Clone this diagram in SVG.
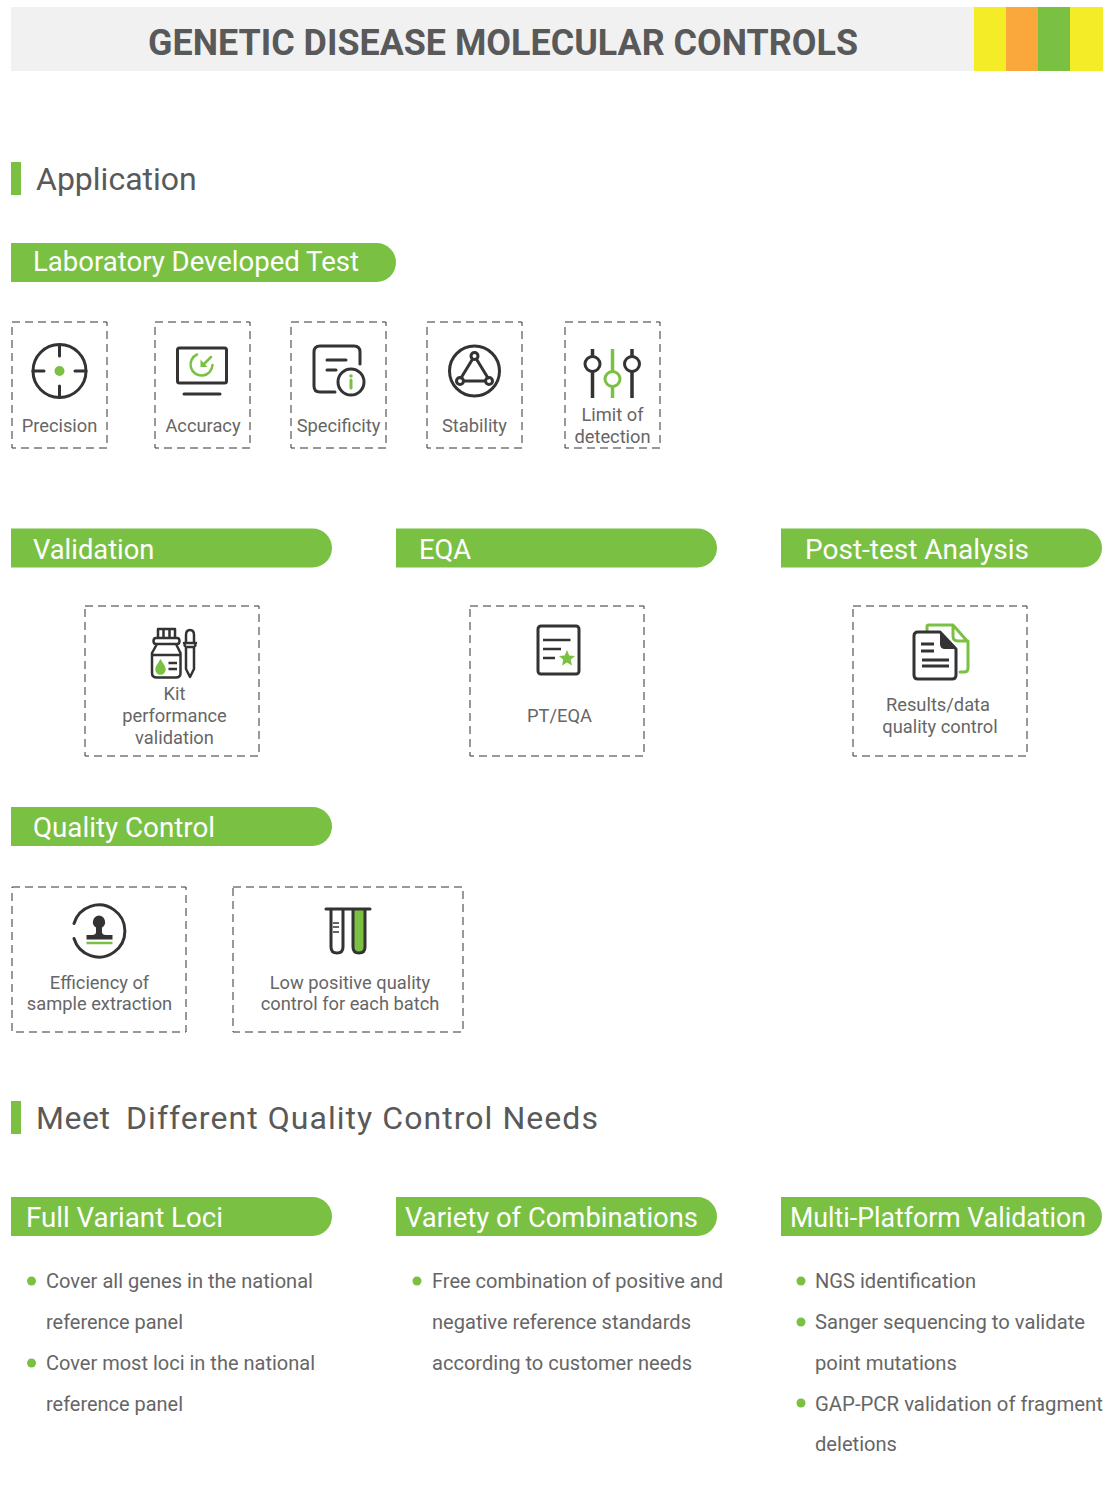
<svg xmlns="http://www.w3.org/2000/svg" width="1109" height="1500" viewBox="0 0 1109 1500">
<style>
text{font-family:Roboto,"Liberation Sans",sans-serif;fill:#595959}
.title{font-size:36px;font-weight:700}
.h{font-size:32px;font-weight:400}
.p{font-size:27.300px;fill:#fff;font-weight:400}
.l{font-size:18.300px;text-anchor:middle;fill:#666}
.b{font-size:20.200px;fill:#666}
.box{fill:none;stroke:#333;stroke-width:1;stroke-dasharray:8 5}
.pill{fill:#7ac143}
.d{fill:none;stroke:#333;stroke-width:3;stroke-linecap:round;stroke-linejoin:round}
.g{fill:none;stroke:#7ac143;stroke-width:3;stroke-linecap:round;stroke-linejoin:round}
.gf{fill:#7ac143}.df{fill:#333}
.dot{fill:#7ac143}
</style>
<defs><path id="pl" d="M0 0H301.500A19.500 19.500 0 0 1 301.500 39H0Z"/></defs>
<g id="header">
<rect x="11" y="7" width="964" height="64" fill="#f1f1f2"/>
<rect x="974" y="7" width="32" height="64" fill="#f5ec28"/>
<rect x="1006" y="7" width="32" height="64" fill="#faa73b"/>
<rect x="1038" y="7" width="32" height="64" fill="#7ac143"/>
<rect x="1070" y="7" width="33" height="64" fill="#f5ec28"/>
<text class="title" x="148" y="55" textLength="710" lengthAdjust="spacingAndGlyphs">GENETIC DISEASE MOLECULAR CONTROLS</text>
</g>
<g id="section-application"><rect x="11" y="162" width="10" height="33" class="pill"/><text class="h" x="36" y="190">Application</text></g>
<g id="pill-ldt"><path class="pill" d="M11 243H376.500A19.500 19.500 0 0 1 376.500 282H11Z"/><text class="p" x="33" y="271" textLength="326" lengthAdjust="spacingAndGlyphs">Laboratory Developed Test</text></g>

<g id="precision"><rect class="box" x="12" y="322" width="95" height="126"/>
<circle class="d" cx="59.500" cy="371" r="26.500"/><path class="d" d="M59.500 345V356M59.500 386V397M33 371H44M75 371H86"/><circle class="dot" cx="59.500" cy="371" r="5"/>
<text class="l" x="59.500" y="432">Precision</text></g>

<g id="accuracy"><rect class="box" x="155" y="322" width="95" height="126"/>
<rect class="d" x="177.500" y="348" width="49" height="35" rx="2"/><path class="d" d="M184 394H220"/>
<path class="g" style="stroke-width:2.500" d="M197 354.500A11 11 0 1 0 212.500 365"/><path class="g" style="stroke-width:2.500" d="M211 357L203 365"/><path class="gf" d="M200.500 359.500L207.500 367H200.500Z"/>
<text class="l" x="203" y="432">Accuracy</text></g>

<g id="specificity"><rect class="box" x="291" y="322" width="95" height="126"/>
<path class="d" d="M335 392H320Q314 392 314 386V352Q314 346 320 346H354Q360 346 360 352V364"/><path class="d" d="M327 360H346M327 370H336"/>
<circle class="d" cx="351" cy="382" r="13"/><path class="g" d="M351 380V388"/><circle class="gf" cx="351" cy="376" r="1.800"/>
<text class="l" x="338.500" y="432">Specificity</text></g>

<g id="stability"><rect class="box" x="427" y="322" width="95" height="126"/>
<circle class="d" cx="474.500" cy="371" r="25"/><path class="d" d="M472 360L461 378M477 360L488 378M465 381H484"/><circle class="d" cx="474.500" cy="356" r="3.500"/><circle class="d" cx="460" cy="381" r="3.500"/><circle class="d" cx="489" cy="381" r="3.500"/>
<text class="l" x="474.500" y="432">Stability</text></g>

<g id="lod"><rect class="box" x="565" y="322" width="95" height="126"/>
<path class="d" style="stroke-linecap:butt;stroke-width:3.500" d="M592.500 349V357M592.500 372V398M632 349V357M632 372V398"/>
<circle class="d" cx="592.500" cy="364" r="7.500"/><circle class="d" cx="632" cy="364" r="7.500"/>
<path class="g" style="stroke-linecap:butt;stroke-width:3.500" d="M612.500 349V372M612.500 387V398"/><circle class="g" cx="612.500" cy="379" r="7.500"/>
<text class="l" x="612.500" y="421">Limit of</text><text class="l" x="612.500" y="443">detection</text></g>

<g id="pill-validation"><use href="#pl" x="11" y="528.500" class="pill"/><text class="p" x="33" y="559">Validation</text></g>
<g id="pill-eqa"><use href="#pl" x="396" y="528.500" class="pill"/><text class="p" x="419" y="559">EQA</text></g>
<g id="pill-post"><use href="#pl" x="781" y="528.500" class="pill"/><text class="p" x="805" y="559" textLength="224" lengthAdjust="spacingAndGlyphs">Post-test Analysis</text></g>

<g id="kit"><rect class="box" x="85" y="606" width="174" height="150"/>
<path class="d" style="stroke-width:2.500" d="M158 638V629H175V638M163.500 630V637M169.500 630V637M156 638H177Q179.500 638 179.500 641Q179.500 644 177 644H156Q153.500 644 153.500 641Q153.500 638 156 638ZM157 644L152 653V673Q152 677.500 157 677.500H176Q180.500 677.500 180.500 673V653L176 644M152 655H180.500"/>
<path class="gf" d="M160.500 659C163 663.500 165.700 666 165.700 669.500A5.200 5.200 0 0 1 155.300 669.500C155.300 666 158 663.500 160.500 659Z"/>
<path class="d" style="stroke-width:2.500;stroke-linecap:butt" d="M168.500 663H177M168.500 669H177"/>
<path class="d" style="stroke-width:2.500" d="M186 642V635Q186 630 190 630Q194 630 194 635V642M184 643H196M186 647H194M186 647V669L190 677L194 669V647M186 643Q183 645 186 647M194 643Q197 645 194 647"/>
<text class="l" x="174.500" y="700">Kit</text><text class="l" x="174.500" y="722">performance</text><text class="l" x="174.500" y="744">validation</text></g>

<g id="pteqa"><rect class="box" x="470" y="606" width="174" height="150"/>
<rect class="d" x="538" y="626" width="41" height="48" rx="3"/><path class="d" style="stroke-width:2.500;stroke-linecap:butt" d="M543 640H570.500M543 649H561M543 658H555"/>
<path class="gf" d="M567 650L569.300 655.400L575 656L570.700 659.800L572 665.500L567 662.500L562 665.500L563.300 659.800L559 656L564.700 655.400Z"/>
<text class="l" x="559.500" y="722">PT/EQA</text></g>

<g id="results"><rect class="box" x="853" y="606" width="174" height="150"/>
<path class="g" d="M927 631V626Q927 625 929 625H953L968 642V668Q968 672 964 672H960M953 625V636Q953 641 958 641H968"/>
<path class="d" style="fill:#fff" d="M918 632H940L956 649V675Q956 679 952 679H918Q914 679 914 675V636Q914 632 918 632Z"/>
<path class="df" d="M940 632L956 649H945Q940 649 940 644Z"/>
<path class="d" style="stroke-linecap:butt" d="M921 644H934M921 651H934M922 660H949M922 666H949"/>
<text class="l" x="938" y="711">Results/data</text><text class="l" x="940" y="733">quality control</text></g>

<g id="pill-qc"><use href="#pl" x="11" y="807" class="pill"/><text class="p" x="33" y="837" textLength="182" lengthAdjust="spacingAndGlyphs">Quality Control</text></g>

<g id="efficiency"><rect class="box" x="12" y="887" width="174" height="145"/>
<path class="d" d="M74 923.500A26 26 0 1 1 74 938.500"/>
<path class="df" d="M99 915.500A6.500 6.500 0 0 1 102 927.500V932Q102 935 106 935H112.500V939.500H86.500V935H92Q96 935 96 932V927.500A6.500 6.500 0 0 1 99 915.500Z"/>
<path class="g" style="stroke-linecap:butt;stroke-width:2.500" d="M86.500 943H112.500"/>
<text class="l" x="99.500" y="989">Efficiency of</text><text class="l" x="99.500" y="1010">sample extraction</text></g>

<g id="lowpos"><rect class="box" x="233" y="887" width="230" height="145"/>
<path class="gf" d="M353 909H365V947Q365 953 359 953Q353 953 353 947Z"/>
<path class="d" d="M326 909H370M331 909V947Q331 953 337 953Q343 953 343 947V909M353 909V947Q353 953 359 953Q365 953 365 947V909"/>
<path class="d" style="stroke-width:1.500;stroke-linecap:butt" d="M333 923H339M333 927H339M333 932H339"/>
<text class="l" x="350" y="989">Low positive quality</text><text class="l" x="350" y="1010">control for each batch</text></g>

<g id="section-needs"><rect x="11" y="1101" width="10" height="33" class="pill"/><text class="h" y="1129" xml:space="preserve"><tspan x="36" letter-spacing=".5">Meet  </tspan><tspan x="126" letter-spacing="1.050">Different Quality Control Needs</tspan></text></g>

<g id="col-full"><use href="#pl" x="11" y="1197" class="pill"/><text class="p" x="26" y="1227" textLength="197" lengthAdjust="spacingAndGlyphs">Full Variant Loci</text>
<circle class="dot" cx="31.500" cy="1281" r="4.500"/><circle class="dot" cx="31.500" cy="1363" r="4.500"/>
<text class="b" x="46" y="1288" textLength="267" lengthAdjust="spacingAndGlyphs">Cover all genes in the national</text><text class="b" x="46" y="1329" textLength="137" lengthAdjust="spacingAndGlyphs">reference panel</text><text class="b" x="46" y="1370" textLength="269" lengthAdjust="spacingAndGlyphs">Cover most loci in the national</text><text class="b" x="46" y="1411" textLength="137" lengthAdjust="spacingAndGlyphs">reference panel</text></g>

<g id="col-combo"><use href="#pl" x="396" y="1197" class="pill"/><text class="p" x="405" y="1227" textLength="293" lengthAdjust="spacingAndGlyphs">Variety of Combinations</text>
<circle class="dot" cx="417" cy="1281" r="4.500"/>
<text class="b" x="432" y="1288" textLength="291" lengthAdjust="spacingAndGlyphs">Free combination of positive and</text><text class="b" x="432" y="1329" textLength="259" lengthAdjust="spacingAndGlyphs">negative reference standards</text><text class="b" x="432" y="1370" textLength="260" lengthAdjust="spacingAndGlyphs">according to customer needs</text></g>

<g id="col-platform"><use href="#pl" x="781" y="1197" class="pill"/><text class="p" x="790" y="1227" textLength="296" lengthAdjust="spacingAndGlyphs">Multi-Platform Validation</text>
<circle class="dot" cx="801" cy="1281" r="4.500"/><circle class="dot" cx="801" cy="1322" r="4.500"/><circle class="dot" cx="801" cy="1403" r="4.500"/>
<text class="b" x="815" y="1288" textLength="161" lengthAdjust="spacingAndGlyphs">NGS identification</text><text class="b" x="815" y="1329" textLength="270" lengthAdjust="spacingAndGlyphs">Sanger sequencing to validate</text><text class="b" x="815" y="1370" textLength="142" lengthAdjust="spacingAndGlyphs">point mutations</text><text class="b" x="815" y="1411" textLength="288" lengthAdjust="spacingAndGlyphs">GAP-PCR validation of fragment</text><text class="b" x="815" y="1451" textLength="82" lengthAdjust="spacingAndGlyphs">deletions</text></g>
</svg>
